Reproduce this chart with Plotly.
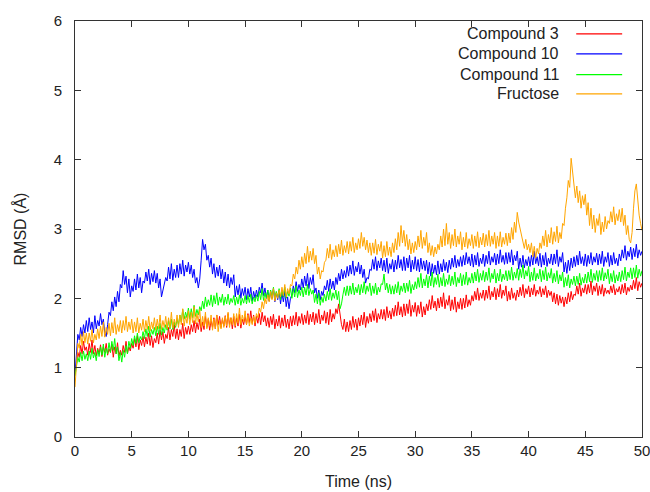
import plotly.graph_objects as go

# Time grid: 0 to 50 ns, one sample every 0.125 ns
time_ns = [i * 0.125 for i in range(401)]

compound3 = [
    0.95,
    1.05, 1.22, 1.15, 1.32, 1.20, 1.38, 1.25, 1.30,
    1.18, 1.35, 1.22, 1.40, 1.20, 1.32, 1.17, 1.28,
    1.20, 1.33, 1.16, 1.30, 1.22, 1.35, 1.18, 1.27,
    1.22, 1.34, 1.15, 1.30, 1.20, 1.36, 1.17, 1.25,
    1.18, 1.32, 1.22, 1.38, 1.20, 1.30, 1.24, 1.35,
    1.28, 1.42, 1.30, 1.46, 1.26, 1.40, 1.32, 1.45,
    1.30, 1.44, 1.34, 1.50, 1.32, 1.46, 1.29, 1.42,
    1.36, 1.50, 1.34, 1.54, 1.40, 1.52, 1.35, 1.48,
    1.42, 1.58, 1.40, 1.55, 1.45, 1.62, 1.42, 1.56,
    1.40, 1.55, 1.45, 1.64, 1.42, 1.58, 1.48, 1.60,
    1.48, 1.62, 1.52, 1.68, 1.50, 1.65, 1.55, 1.70,
    1.52, 1.66, 1.55, 1.74, 1.58, 1.70, 1.54, 1.68,
    1.58, 1.72, 1.56, 1.76, 1.62, 1.74, 1.58, 1.70,
    1.60, 1.75, 1.58, 1.78, 1.62, 1.72, 1.56, 1.74,
    1.58, 1.72, 1.60, 1.77, 1.57, 1.70, 1.62, 1.74,
    1.62, 1.78, 1.65, 1.82, 1.64, 1.76, 1.60, 1.74,
    1.64, 1.78, 1.62, 1.80, 1.66, 1.75, 1.60, 1.72,
    1.58, 1.74, 1.62, 1.77, 1.56, 1.70, 1.60, 1.75,
    1.57, 1.72, 1.60, 1.76, 1.58, 1.70, 1.56, 1.74,
    1.60, 1.75, 1.62, 1.80, 1.60, 1.74, 1.64, 1.78,
    1.62, 1.76, 1.64, 1.82, 1.62, 1.77, 1.66, 1.80,
    1.62, 1.78, 1.65, 1.84, 1.63, 1.76, 1.68, 1.82,
    1.64, 1.80, 1.62, 1.84, 1.66, 1.78, 1.70, 1.85,
    1.78, 1.92, 1.74, 1.62, 1.55, 1.70, 1.52, 1.66,
    1.52, 1.68, 1.55, 1.74, 1.58, 1.70, 1.54, 1.72,
    1.60, 1.76, 1.62, 1.80, 1.58, 1.74, 1.64, 1.78,
    1.66, 1.82, 1.68, 1.85, 1.65, 1.78, 1.70, 1.84,
    1.70, 1.84, 1.68, 1.88, 1.72, 1.82, 1.70, 1.86,
    1.74, 1.90, 1.75, 1.95, 1.76, 1.88, 1.73, 1.92,
    1.75, 1.92, 1.78, 1.98, 1.74, 1.90, 1.80, 1.94,
    1.74, 1.90, 1.78, 1.95, 1.73, 1.88, 1.76, 1.92,
    1.82, 1.98, 1.84, 2.04, 1.86, 1.96, 1.82, 2.00,
    1.86, 2.02, 1.88, 2.08, 1.85, 1.98, 1.90, 2.04,
    1.82, 1.98, 1.84, 2.02, 1.80, 1.95, 1.85, 2.00,
    1.84, 2.00, 1.86, 2.05, 1.88, 1.98, 1.90, 2.04,
    1.96, 2.10, 1.98, 2.15, 1.97, 2.08, 2.00, 2.12,
    1.97, 2.12, 2.00, 2.18, 1.98, 2.10, 2.02, 2.16,
    1.98, 2.14, 2.02, 2.20, 2.00, 2.12, 2.04, 2.18,
    1.96, 2.10, 1.98, 2.15, 2.00, 2.08, 1.97, 2.12,
    2.02, 2.16, 2.04, 2.20, 2.01, 2.14, 2.06, 2.18,
    2.02, 2.15, 2.05, 2.20, 2.03, 2.12, 2.06, 2.17,
    2.02, 2.14, 2.05, 2.18, 2.01, 2.12, 2.04, 2.10,
    1.95, 2.08, 1.92, 2.06, 1.90, 2.04, 1.93, 2.02,
    1.88, 2.02, 1.92, 2.08, 1.95, 2.10, 1.98, 2.06,
    2.04, 2.18, 2.06, 2.22, 2.03, 2.15, 2.08, 2.20,
    2.06, 2.20, 2.08, 2.25, 2.05, 2.18, 2.10, 2.22,
    2.04, 2.18, 2.06, 2.20, 2.03, 2.15, 2.07, 2.12,
    2.06, 2.18, 2.08, 2.20, 2.05, 2.14, 2.09, 2.17,
    2.06, 2.20, 2.08, 2.22, 2.05, 2.16, 2.10, 2.19,
    2.12, 2.26, 2.14, 2.30, 2.11, 2.24, 2.16, 2.22,
]

compound10 = [
    0.90,
    1.20, 1.48, 1.40, 1.58, 1.45, 1.62, 1.50, 1.68,
    1.52, 1.72, 1.55, 1.66, 1.50, 1.75, 1.56, 1.68,
    1.60, 1.78, 1.62, 1.70, 1.50, 1.45, 1.62, 1.80,
    1.75, 1.95, 1.82, 2.02, 1.88, 2.10, 1.95, 2.20,
    2.15, 2.40, 2.20, 2.32, 2.08, 2.28, 2.02, 2.18,
    2.10, 2.28, 2.12, 2.35, 2.15, 2.30, 2.08, 2.25,
    2.22, 2.38, 2.25, 2.42, 2.20, 2.36, 2.24, 2.40,
    2.22, 2.36, 2.15, 2.28, 2.02, 2.10, 2.18, 2.30,
    2.25, 2.45, 2.28, 2.50, 2.26, 2.42, 2.30, 2.48,
    2.30, 2.50, 2.35, 2.55, 2.32, 2.48, 2.38, 2.52,
    2.35, 2.48, 2.30, 2.42, 2.22, 2.30, 2.15, 2.28,
    2.55, 2.85, 2.70, 2.78, 2.55, 2.62, 2.45, 2.58,
    2.35, 2.50, 2.30, 2.45, 2.32, 2.48, 2.28, 2.42,
    2.22, 2.38, 2.18, 2.35, 2.15, 2.30, 2.20, 2.34,
    2.02, 2.18, 2.05, 2.20, 2.00, 2.14, 2.04, 2.16,
    1.98, 2.14, 2.02, 2.16, 1.96, 2.10, 2.00, 2.12,
    2.02, 2.16, 2.08, 2.22, 2.04, 2.15, 2.00, 2.12,
    1.96, 2.10, 2.00, 2.14, 1.95, 2.08, 1.98, 2.12,
    1.92, 2.08, 1.95, 2.10, 1.88, 2.02, 1.85, 2.00,
    2.05, 2.18, 2.08, 2.24, 2.10, 2.20, 2.12, 2.28,
    2.15, 2.32, 2.18, 2.36, 2.14, 2.30, 2.20, 2.34,
    2.08, 2.15, 2.00, 2.12, 1.98, 2.10, 2.04, 2.18,
    2.12, 2.26, 2.10, 2.28, 2.14, 2.25, 2.12, 2.30,
    2.20, 2.36, 2.25, 2.42, 2.28, 2.40, 2.30, 2.46,
    2.32, 2.48, 2.35, 2.54, 2.33, 2.46, 2.38, 2.52,
    2.35, 2.48, 2.30, 2.42, 2.22, 2.30, 2.28, 2.42,
    2.40, 2.56, 2.42, 2.60, 2.40, 2.54, 2.44, 2.58,
    2.40, 2.55, 2.38, 2.58, 2.36, 2.50, 2.42, 2.56,
    2.38, 2.55, 2.42, 2.62, 2.44, 2.56, 2.40, 2.60,
    2.40, 2.58, 2.44, 2.62, 2.38, 2.55, 2.42, 2.60,
    2.40, 2.56, 2.38, 2.58, 2.42, 2.54, 2.40, 2.55,
    2.35, 2.52, 2.32, 2.50, 2.36, 2.48, 2.34, 2.54,
    2.35, 2.50, 2.38, 2.56, 2.40, 2.52, 2.37, 2.55,
    2.42, 2.58, 2.45, 2.62, 2.44, 2.56, 2.46, 2.60,
    2.46, 2.62, 2.48, 2.66, 2.50, 2.60, 2.47, 2.64,
    2.45, 2.62, 2.48, 2.66, 2.46, 2.58, 2.50, 2.64,
    2.46, 2.62, 2.50, 2.68, 2.48, 2.60, 2.52, 2.65,
    2.48, 2.64, 2.50, 2.70, 2.52, 2.62, 2.49, 2.66,
    2.50, 2.66, 2.52, 2.70, 2.48, 2.62, 2.54, 2.68,
    2.42, 2.58, 2.45, 2.62, 2.44, 2.56, 2.47, 2.60,
    2.46, 2.62, 2.48, 2.68, 2.50, 2.60, 2.47, 2.65,
    2.45, 2.62, 2.48, 2.66, 2.46, 2.58, 2.50, 2.64,
    2.48, 2.64, 2.50, 2.70, 2.46, 2.60, 2.52, 2.66,
    2.38, 2.52, 2.36, 2.55, 2.40, 2.58, 2.44, 2.60,
    2.46, 2.62, 2.48, 2.68, 2.50, 2.60, 2.47, 2.64,
    2.46, 2.62, 2.50, 2.66, 2.48, 2.60, 2.52, 2.65,
    2.48, 2.64, 2.50, 2.68, 2.46, 2.60, 2.52, 2.66,
    2.46, 2.62, 2.48, 2.66, 2.50, 2.58, 2.47, 2.64,
    2.54, 2.70, 2.58, 2.76, 2.55, 2.68, 2.60, 2.74,
    2.56, 2.72, 2.60, 2.78, 2.58, 2.70, 2.62, 2.68,
]

compound11 = [
    0.88,
    1.02, 1.15, 1.08, 1.22, 1.10, 1.24, 1.12, 1.20,
    1.10, 1.24, 1.12, 1.28, 1.14, 1.22, 1.10, 1.26,
    1.16, 1.30, 1.18, 1.34, 1.15, 1.28, 1.20, 1.36,
    1.22, 1.38, 1.25, 1.42, 1.20, 1.30, 1.10, 1.22,
    1.08, 1.25, 1.15, 1.32, 1.20, 1.38, 1.28, 1.42,
    1.32, 1.46, 1.35, 1.50, 1.36, 1.45, 1.40, 1.52,
    1.42, 1.56, 1.45, 1.60, 1.44, 1.55, 1.48, 1.58,
    1.46, 1.60, 1.48, 1.64, 1.47, 1.58, 1.50, 1.62,
    1.54, 1.68, 1.56, 1.70, 1.55, 1.66, 1.58, 1.70,
    1.62, 1.76, 1.66, 1.84, 1.70, 1.80, 1.72, 1.86,
    1.70, 1.85, 1.72, 1.90, 1.74, 1.84, 1.76, 1.88,
    1.82, 1.96, 1.85, 2.02, 1.88, 1.98, 1.90, 2.05,
    1.88, 2.04, 1.92, 2.08, 1.90, 2.02, 1.94, 2.06,
    1.90, 2.02, 1.92, 2.06, 1.91, 2.00, 1.94, 2.04,
    1.90, 2.02, 1.92, 2.05, 1.90, 2.00, 1.93, 2.04,
    1.92, 2.04, 1.94, 2.06, 1.92, 2.02, 1.95, 2.05,
    1.96, 2.10, 1.98, 2.14, 1.97, 2.08, 2.00, 2.12,
    1.98, 2.12, 2.00, 2.16, 1.99, 2.10, 2.02, 2.14,
    1.98, 2.12, 2.02, 2.16, 2.00, 2.10, 2.03, 2.15,
    2.00, 2.14, 2.02, 2.18, 2.01, 2.12, 2.04, 2.16,
    2.02, 2.16, 2.05, 2.20, 2.04, 2.14, 2.06, 2.12,
    1.94, 2.06, 1.92, 2.08, 1.90, 2.02, 1.94, 2.06,
    1.96, 2.10, 1.98, 2.14, 1.97, 2.08, 2.00, 2.12,
    1.98, 2.10, 1.85, 1.92, 2.05, 2.16, 2.04, 2.18,
    2.04, 2.18, 2.06, 2.22, 2.05, 2.16, 2.08, 2.20,
    2.05, 2.20, 2.08, 2.24, 2.06, 2.18, 2.10, 2.22,
    2.04, 2.18, 2.07, 2.22, 2.05, 2.16, 2.09, 2.21,
    2.20, 2.35, 2.12, 2.22, 2.08, 2.20, 2.06, 2.18,
    2.06, 2.20, 2.08, 2.24, 2.05, 2.18, 2.10, 2.22,
    2.08, 2.22, 2.10, 2.26, 2.07, 2.20, 2.12, 2.24,
    2.14, 2.30, 2.16, 2.36, 2.15, 2.28, 2.18, 2.34,
    2.15, 2.32, 2.18, 2.38, 2.16, 2.30, 2.20, 2.35,
    2.16, 2.30, 2.18, 2.36, 2.17, 2.28, 2.20, 2.34,
    2.18, 2.32, 2.20, 2.38, 2.17, 2.30, 2.22, 2.36,
    2.18, 2.34, 2.20, 2.38, 2.19, 2.30, 2.22, 2.36,
    2.22, 2.38, 2.25, 2.42, 2.23, 2.36, 2.26, 2.40,
    2.24, 2.38, 2.26, 2.44, 2.23, 2.36, 2.28, 2.42,
    2.22, 2.36, 2.25, 2.42, 2.24, 2.35, 2.27, 2.40,
    2.25, 2.40, 2.27, 2.45, 2.26, 2.38, 2.29, 2.43,
    2.26, 2.42, 2.30, 2.48, 2.28, 2.40, 2.32, 2.46,
    2.24, 2.38, 2.26, 2.44, 2.25, 2.36, 2.28, 2.42,
    2.24, 2.40, 2.27, 2.45, 2.25, 2.37, 2.29, 2.43,
    2.22, 2.36, 2.24, 2.40, 2.21, 2.34, 2.25, 2.38,
    2.16, 2.30, 2.18, 2.34, 2.15, 2.28, 2.20, 2.32,
    2.18, 2.32, 2.20, 2.36, 2.19, 2.30, 2.22, 2.35,
    2.22, 2.38, 2.24, 2.42, 2.23, 2.36, 2.26, 2.40,
    2.24, 2.40, 2.26, 2.44, 2.25, 2.37, 2.28, 2.42,
    2.21, 2.36, 2.24, 2.40, 2.22, 2.34, 2.25, 2.38,
    2.24, 2.40, 2.27, 2.45, 2.25, 2.38, 2.30, 2.44,
    2.28, 2.44, 2.30, 2.48, 2.29, 2.42, 2.32, 2.40,
]

fructose = [
    0.72,
    1.05, 1.35, 1.28, 1.48, 1.32, 1.52, 1.36, 1.50,
    1.34, 1.50, 1.38, 1.55, 1.36, 1.48, 1.40, 1.56,
    1.42, 1.60, 1.45, 1.66, 1.44, 1.58, 1.48, 1.64,
    1.46, 1.65, 1.50, 1.72, 1.48, 1.62, 1.52, 1.68,
    1.50, 1.68, 1.54, 1.74, 1.52, 1.66, 1.55, 1.70,
    1.50, 1.66, 1.52, 1.72, 1.50, 1.64, 1.54, 1.70,
    1.52, 1.68, 1.55, 1.74, 1.53, 1.66, 1.56, 1.72,
    1.54, 1.70, 1.56, 1.76, 1.55, 1.68, 1.58, 1.74,
    1.56, 1.72, 1.58, 1.80, 1.57, 1.70, 1.60, 1.76,
    1.58, 1.76, 1.62, 1.85, 1.60, 1.74, 1.64, 1.82,
    1.62, 1.80, 1.65, 1.88, 1.63, 1.78, 1.66, 1.84,
    1.58, 1.74, 1.60, 1.80, 1.56, 1.72, 1.60, 1.76,
    1.54, 1.70, 1.56, 1.76, 1.52, 1.68, 1.56, 1.72,
    1.58, 1.74, 1.60, 1.80, 1.58, 1.72, 1.62, 1.78,
    1.60, 1.78, 1.64, 1.86, 1.62, 1.76, 1.66, 1.82,
    1.62, 1.76, 1.60, 1.72, 1.62, 1.74, 1.64, 1.78,
    1.72, 1.86, 1.80, 1.95, 1.85, 2.00, 1.92, 2.05,
    1.95, 2.10, 1.98, 2.14, 1.96, 2.08, 2.00, 2.12,
    2.02, 2.16, 2.04, 2.20, 2.02, 2.14, 2.06, 2.20,
    2.18, 2.35, 2.28, 2.45, 2.35, 2.55, 2.42, 2.60,
    2.45, 2.65, 2.50, 2.75, 2.52, 2.68, 2.55, 2.72,
    2.50, 2.62, 2.35, 2.45, 2.28, 2.40, 2.38, 2.52,
    2.55, 2.72, 2.58, 2.78, 2.56, 2.70, 2.60, 2.76,
    2.60, 2.78, 2.64, 2.84, 2.62, 2.76, 2.66, 2.82,
    2.64, 2.82, 2.68, 2.88, 2.66, 2.80, 2.70, 2.86,
    2.72, 2.95, 2.75, 2.88, 2.70, 2.84, 2.66, 2.80,
    2.62, 2.80, 2.65, 2.85, 2.63, 2.78, 2.68, 2.82,
    2.58, 2.76, 2.60, 2.82, 2.62, 2.74, 2.60, 2.80,
    2.66, 2.86, 2.70, 2.95, 2.75, 3.05, 2.80, 2.98,
    2.75, 2.92, 2.70, 2.85, 2.64, 2.80, 2.66, 2.82,
    2.70, 2.90, 2.74, 2.98, 2.72, 2.88, 2.76, 2.95,
    2.66, 2.80, 2.62, 2.76, 2.60, 2.74, 2.64, 2.78,
    2.70, 2.90, 2.74, 3.00, 2.76, 3.08, 2.78, 2.95,
    2.72, 2.92, 2.76, 3.00, 2.74, 2.90, 2.78, 2.96,
    2.70, 2.88, 2.74, 2.95, 2.72, 2.86, 2.76, 2.92,
    2.72, 2.90, 2.75, 2.96, 2.73, 2.88, 2.77, 2.94,
    2.74, 2.92, 2.76, 2.98, 2.75, 2.90, 2.78, 2.95,
    2.72, 2.90, 2.75, 2.96, 2.74, 2.88, 2.78, 2.94,
    2.76, 2.94, 2.80, 3.02, 2.85, 3.10, 2.95, 3.24,
    3.10, 3.00, 2.88, 2.80, 2.72, 2.85, 2.70, 2.78,
    2.66, 2.80, 2.60, 2.75, 2.58, 2.72, 2.64, 2.80,
    2.72, 2.90, 2.76, 2.98, 2.74, 2.92, 2.80, 3.02,
    2.78, 2.96, 2.82, 3.04, 2.80, 2.95, 2.86, 3.08,
    3.05, 3.30, 3.45, 3.70, 3.60, 4.02, 3.80, 3.65,
    3.45, 3.62, 3.38, 3.55, 3.30, 3.48, 3.35, 3.50,
    3.20, 3.38, 3.05, 3.30, 3.00, 3.20, 2.95, 3.15,
    3.05, 3.22, 2.92, 3.10, 2.96, 3.18, 3.00, 3.12,
    3.08, 3.25, 3.10, 3.32, 3.06, 3.22, 3.12, 3.28,
    3.10, 3.30, 3.05, 3.20, 2.92, 3.05, 2.85, 2.80,
    2.95, 3.30, 3.55, 3.65, 3.40, 3.20, 3.08, 2.98,
]

series_names = ["Compound 3", "Compound 10", "Compound 11", "Fructose"]
series_values = [compound3, compound10, compound11, fructose]
series_colors = ["#ff0000", "#0000ff", "#00ff00", "#ffa500"]

x_ticks = [0, 5, 10, 15, 20, 25, 30, 35, 40, 45, 50]
y_ticks = [0, 1, 2, 3, 4, 5, 6]

FONT = "Liberation Sans, Arial, sans-serif"
TXT = "#222222"

fig = go.Figure()
for name, vals, col in zip(series_names, series_values, series_colors):
    fig.add_trace(go.Scatter(x=time_ns, y=vals, mode="lines", name=name,
                             line=dict(color=col, width=1), showlegend=False))

# gnuplot-style legend: text right-aligned, sample line to the right
legend_y = [0.969, 0.921, 0.871, 0.825]
for name, col, ly in zip(series_names, series_colors, legend_y):
    fig.add_annotation(x=0.857, y=ly, xref="paper", yref="paper", text=name,
                       showarrow=False, xanchor="right", yanchor="middle",
                       font=dict(family=FONT, size=16, color=TXT))
    fig.add_shape(type="line", xref="paper", yref="paper", x0=0.884, x1=0.965,
                  y0=ly, y1=ly, line=dict(color=col, width=1.2))

axis_common = dict(showline=True, linecolor="#333333", linewidth=1, mirror="ticks",
                   ticks="inside", ticklen=6, tickcolor="#333333", showgrid=False,
                   zeroline=False, automargin=False, ticklabeloverflow="allow",
                   tickfont=dict(family=FONT, size=15, color=TXT))

fig.update_xaxes(range=[0, 50], tickvals=x_ticks,
                 title=dict(text="Time (ns)", font=dict(family=FONT, size=16, color=TXT), standoff=17),
                 **axis_common)
fig.update_yaxes(range=[0, 6], tickvals=y_ticks, ticklabelstandoff=9,
                 title=dict(text="RMSD (Å)", font=dict(family=FONT, size=16, color=TXT), standoff=23),
                 **axis_common)

fig.update_layout(width=650, height=492, plot_bgcolor="white", paper_bgcolor="white",
                  margin=dict(l=75, r=8, t=21, b=55), showlegend=False)

# remove the browser's default page margin so the figure fills the window exactly
fig.write_html("out.html", config={"displayModeBar": False},
               post_script="document.body.style.margin='0';document.body.style.overflow='hidden';")
